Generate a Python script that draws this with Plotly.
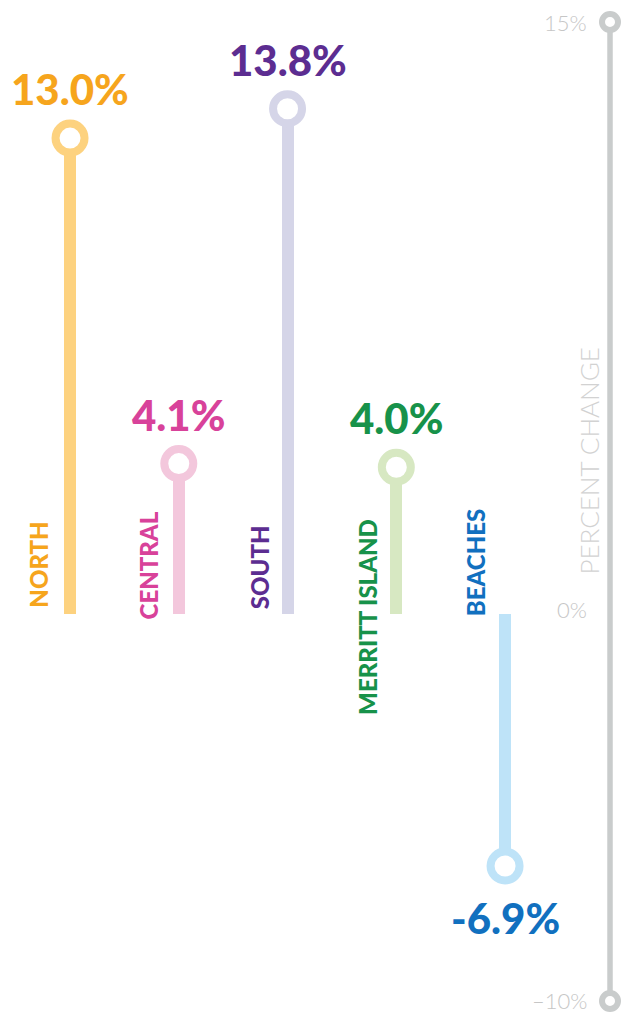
import plotly.graph_objects as go

# ---- data ----
regions = ["NORTH", "CENTRAL", "SOUTH", "MERRITT ISLAND", "BEACHES"]
pct_change = [13.0, 4.1, 13.8, 4.0, -6.9]
value_labels = ["13.0%", "4.1%", "13.8%", "4.0%", "-6.9%"]
scale_ticks = [15, 0, -10]
scale_labels = ["15%", "0%", "\u201310%"]
scale_title = "PERCENT CHANGE"

# ---- styles ----
text_colors = ["#F6A51D", "#D8429A", "#5C2D91", "#17924A", "#1170BF"]
bar_colors = ["#FDD27F", "#F3C7DC", "#D5D5E8", "#D7E8C2", "#BEE3F8"]
axis_color = "#C9CCCC"
axis_text = "#C6C6C6"
W, H = 626, 1019
xs = list(range(len(regions)))
axis_x = 4.965
# pixel offsets for rotated region labels relative to 0-line
label_anchor = [("bottom", 4), ("bottom", -8), ("bottom", 2), ("top", 97), ("bottom", -5)]
label_dx = [-31, -30, -28, -29, -30]

fig = go.Figure()

# stems
fig.add_trace(go.Bar(
    x=xs, y=pct_change, width=0.11,
    marker=dict(color=bar_colors, line=dict(width=0)),
    hoverinfo="skip", showlegend=False,
))
# rings
fig.add_trace(go.Scatter(
    x=xs, y=pct_change, mode="markers",
    marker=dict(symbol="circle", size=29, color="white",
                line=dict(width=8, color=bar_colors)),
    hoverinfo="skip", showlegend=False,
))

# right-hand scale (own axis)
fig.add_trace(go.Scatter(
    x=[axis_x, axis_x], y=[scale_ticks[0], scale_ticks[-1]], yaxis="y2",
    mode="lines+markers",
    line=dict(color=axis_color, width=5.5),
    marker=dict(symbol="circle", size=16, color="white",
                line=dict(width=6, color=axis_color)),
    hoverinfo="skip", showlegend=False,
))

annotations = []
for t, lab in zip(scale_ticks, scale_labels):
    annotations.append(dict(
        x=axis_x, y=t, xref="x", yref="y2", text=lab, showarrow=False,
        xshift=-21, xanchor="right", yanchor="middle",
        font=dict(family="Lato", size=22, color=axis_text, weight=300),
    ))

for i, (r, v, lab) in enumerate(zip(regions, pct_change, value_labels)):
    annotations.append(dict(
        x=i, y=v, xref="x", yref="y", text=lab, showarrow=False,
        yshift=49 if v >= 0 else -52,
        font=dict(family="Lato", size=42, color=text_colors[i], weight=900),
        xanchor="center", yanchor="middle",
    ))
    anc, shift = label_anchor[i]
    annotations.append(dict(
        x=i, y=0, xref="x", yref="y", text=r, showarrow=False,
        textangle=-90, xshift=label_dx[i], yshift=shift,
        font=dict(family="Lato", size=24, color=text_colors[i], weight=900),
        xanchor="center", yanchor=anc,
    ))

annotations.append(dict(
    x=axis_x, y=3.8, xref="x", yref="y2", text=scale_title, showarrow=False,
    textangle=-90, xshift=-21,
    font=dict(family="Lato", size=26, color="#D2D2D2", weight=300),
    xanchor="center", yanchor="middle",
))

fig.update_layout(
    width=W, height=H,
    margin=dict(l=0, r=0, t=0, b=0),
    paper_bgcolor="white", plot_bgcolor="white",
    xaxis=dict(range=[-0.644, 5.112], visible=False, fixedrange=True),
    yaxis=dict(range=[-11.083, 16.774], visible=False, fixedrange=True),
    yaxis2=dict(range=[-10.460, 15.562], visible=False, overlaying="y", fixedrange=True),
    annotations=annotations,
    bargap=0,
)

fig.write_html(
    "out.html",
    config={"displayModeBar": False},
    post_script="document.body.style.margin='0';document.body.style.overflow='hidden';"
                "document.documentElement.style.overflow='hidden';",
)
